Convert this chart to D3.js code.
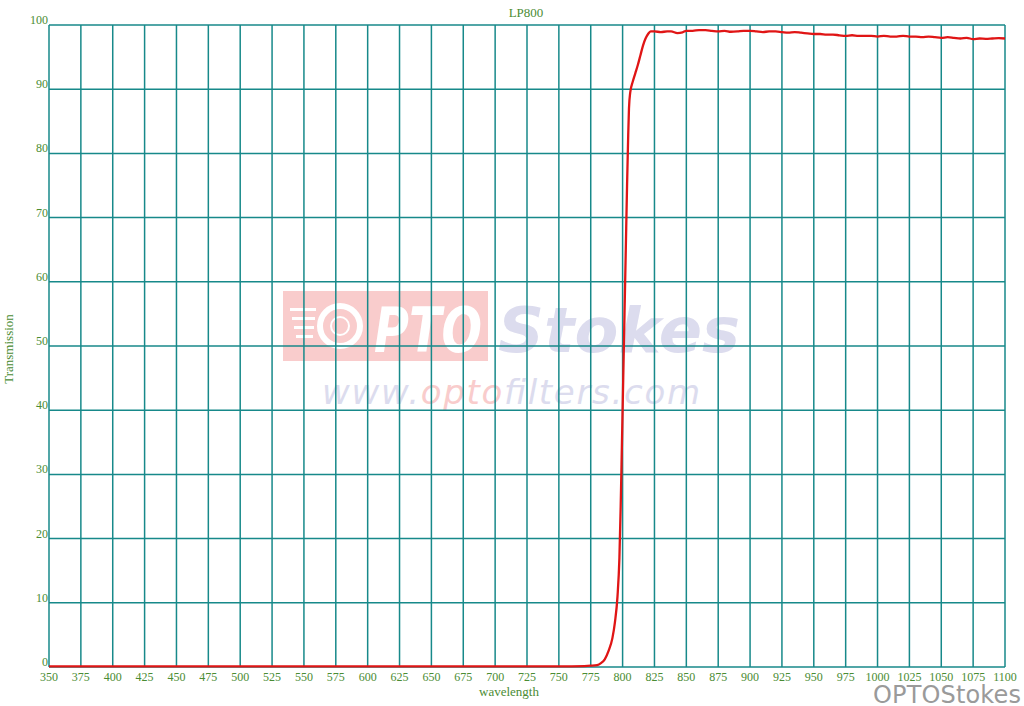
<!DOCTYPE html>
<html><head><meta charset="utf-8">
<script src="https://cdn.jsdelivr.net/npm/d3@7"></script>
<style>body{margin:0;background:#fff}svg{display:block}</style>
</head><body>
<svg id="c" width="1024" height="706"></svg>
<script>
const title = "LP800";
const xLabel = "wavelength";
const yLabel = "Transmission";
const xTicks = [350,375,400,425,450,475,500,525,550,575,600,625,650,675,700,725,750,775,800,825,850,875,900,925,950,975,1000,1025,1050,1075,1100];
const yTicks = [0,10,20,30,40,50,60,70,80,90,100];
const wavelength = [350,400,450,500,550,600,650,700,750,770,775,780,783,786,789,792,794,796,797.5,798.5,799.5,800.5,801.5,802.5,803.5,804.3,805,806,808,810,812,814,816,818,820,822,825,830,835,838,843,847,850,855,860,865,870,875,880,885,890,895,900,905,910,915,920,925,930,935,940,945,950,955,960,965,970,975,980,985,990,995,1000,1005,1010,1015,1020,1025,1030,1035,1040,1045,1050,1055,1060,1065,1070,1075,1080,1085,1090,1095,1100];
const transmission = [0.1,0.1,0.1,0.1,0.1,0.1,0.1,0.1,0.1,0.15,0.2,0.3,0.6,1.2,2.5,4.5,7,11,17,25,35,45,55,65,75,82,87,89.5,91.2,92.5,93.8,95.3,96.8,97.9,98.6,99.0,99.0,98.9,99.0,99.0,98.75,98.85,99.1,99.1,99.2,99.2,99.1,99.0,99.1,98.95,99.0,99.1,99.1,99.0,98.9,99.0,99.0,98.9,98.8,98.9,98.8,98.7,98.6,98.6,98.5,98.5,98.4,98.3,98.4,98.3,98.3,98.3,98.2,98.3,98.2,98.2,98.3,98.2,98.2,98.1,98.2,98.1,98.0,98.1,98.0,97.9,98.0,97.8,97.9,97.85,97.9,97.95,97.9];

const svg = d3.select("#c");
const x = d3.scaleLinear().domain([350,1100]).range([49,1005]);
const y = d3.scaleLinear().domain([0,100]).range([667,25]);
const gridColor = "#17898a";
const textColor = "#4a8c33";
const serif = "'Liberation Serif','DejaVu Serif',serif";

// watermark
const wm = svg.append("g");
wm.append("rect").attr("x",283).attr("y",291).attr("width",205).attr("height",70).attr("fill","#f9cccc");
[0,1,2,3].forEach(i=>{
  wm.append("rect").attr("x",290+i*2).attr("y",308+i*9).attr("width",26-i*3).attr("height",3).attr("fill","#fff");
});
wm.append("circle").attr("cx",340).attr("cy",326).attr("r",20).attr("fill","none").attr("stroke","#fff").attr("stroke-width",6);
wm.append("circle").attr("cx",340).attr("cy",326).attr("r",9).attr("fill","none").attr("stroke","#fff").attr("stroke-width",2);
wm.append("text").attr("x",374).attr("y",352).attr("font-family","'DejaVu Sans',sans-serif").attr("font-weight","bold").attr("font-style","italic").attr("font-size",62).attr("fill","#fff").attr("textLength",108).attr("lengthAdjust","spacingAndGlyphs").text("PTO");
wm.append("text").attr("x",498).attr("y",352).attr("font-family","'DejaVu Sans',sans-serif").attr("font-weight","bold").attr("font-style","italic").attr("font-size",62).attr("fill","#dcdcee").attr("textLength",242).attr("lengthAdjust","spacingAndGlyphs").text("Stokes");
const url = wm.append("text").attr("x",322).attr("y",404).attr("font-family","'DejaVu Sans',sans-serif").attr("font-style","italic").attr("font-size",34).attr("textLength",378);
url.append("tspan").attr("fill","#dcdcee").text("www.");
url.append("tspan").attr("fill","#f9cccc").text("opto");
url.append("tspan").attr("fill","#dcdcee").text("filters.com");

// grid
svg.append("g").selectAll("line").data(xTicks).join("line")
  .attr("x1",d=>x(d)).attr("x2",d=>x(d)).attr("y1",y(100)).attr("y2",y(0))
  .attr("stroke",gridColor).attr("stroke-width",1.5);
svg.append("g").selectAll("line").data(yTicks).join("line")
  .attr("x1",x(350)).attr("x2",x(1100)).attr("y1",d=>y(d)).attr("y2",d=>y(d))
  .attr("stroke",gridColor).attr("stroke-width",1.5);

// tick labels
svg.append("g").selectAll("text").data(xTicks).join("text")
  .attr("x",d=>x(d)).attr("y",681).attr("text-anchor","middle")
  .attr("font-family",serif).attr("font-size",12).attr("fill",textColor).text(d=>d);
svg.append("g").selectAll("text").data(yTicks).join("text")
  .attr("x",48).attr("y",d=>y(d)-1).attr("text-anchor","end")
  .attr("font-family",serif).attr("font-size",12).attr("fill",textColor).text(d=>d);

// curve
const pts = wavelength.map((w,i)=>[w,transmission[i]]);
svg.append("path").datum(pts)
  .attr("d",d3.line().x(d=>x(d[0])).y(d=>y(d[1])).curve(d3.curveMonotoneX))
  .attr("fill","none").attr("stroke","#e01515").attr("stroke-width",2.3).attr("stroke-linejoin","round");

// titles
svg.append("text").attr("x",526).attr("y",17).attr("text-anchor","middle")
  .attr("font-family",serif).attr("font-size",13).attr("fill",textColor).text(title);
svg.append("text").attr("x",509).attr("y",696).attr("text-anchor","middle")
  .attr("font-family",serif).attr("font-size",13).attr("fill",textColor).text(xLabel);
svg.append("text").attr("transform","translate(13,349) rotate(-90)").attr("text-anchor","middle")
  .attr("font-family",serif).attr("font-size",13).attr("fill",textColor).text(yLabel);

// corner brand
svg.append("text").attr("x",1021).attr("y",703).attr("text-anchor","end")
  .attr("font-family","'DejaVu Sans',sans-serif").attr("font-size",24).attr("fill","#9a9a9a").attr("textLength",148).text("OPTOStokes");
</script>
</body></html>
